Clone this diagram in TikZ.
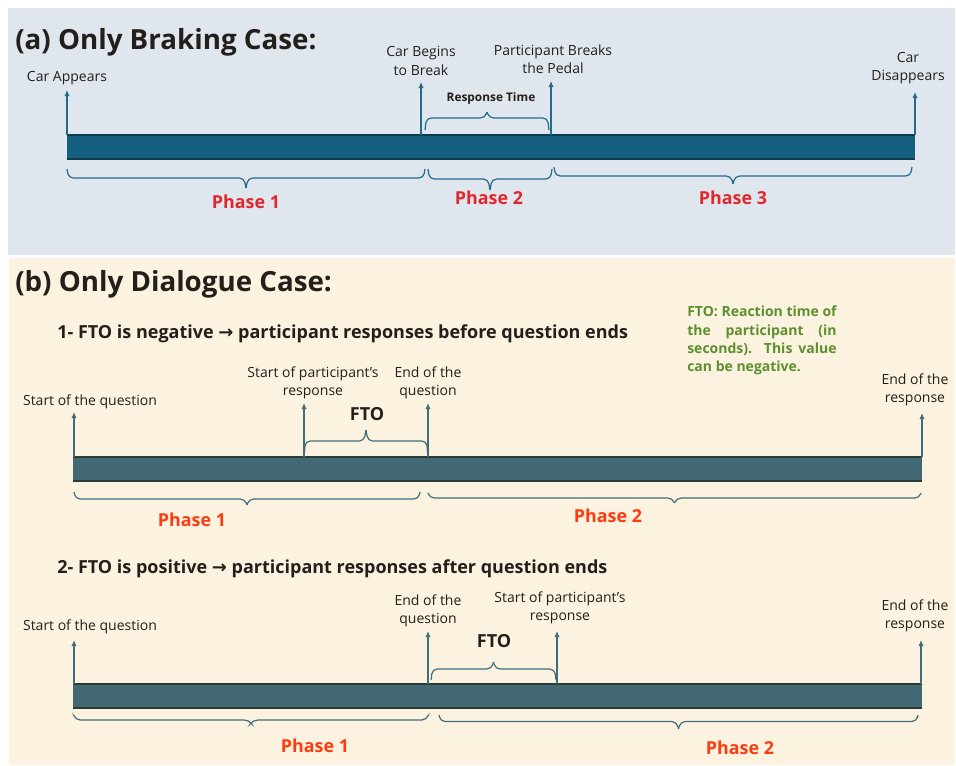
\documentclass[tikz,border=0pt]{standalone}
\usepackage{fontspec}
\setmainfont{Open Sans}
\newfontfamily\dejavu{DejaVu Sans}
\usetikzlibrary{arrows.meta}
\definecolor{bgA}{HTML}{E0E6EE}
\definecolor{bgB}{HTML}{FBF3E0}
\definecolor{barAf}{HTML}{155F7F}
\definecolor{barAd}{HTML}{0E3B4E}
\definecolor{barBf}{HTML}{426973}
\definecolor{barBd}{HTML}{2D3B38}
\definecolor{arrA}{HTML}{226B8A}
\definecolor{arrB}{HTML}{3F6E7A}
\definecolor{redA}{HTML}{E3262B}
\definecolor{redB}{HTML}{FF3A10}
\definecolor{grn}{HTML}{5E8F2E}
\definecolor{ink}{HTML}{231F1A}
% custom brace: #1 style, #2 name, #3 x1, #4 x2, #5 base y, #6 line y, #7 tip y
\newcommand\mybrace[7]{%
  \coordinate (#2-a) at (#3,#5);
  \coordinate (#2-b) at (#4,#5);
  \coordinate (#2-t) at ({(#3+#4)/2},#7);
  \draw[#1,rounded corners=3.5pt] (#2-a) -- (#3+1.5,#6) -- ({(#3+#4)/2-2},#6) -- (#2-t);
  \draw[#1,rounded corners=3.5pt] (#2-b) -- (#4-1.5,#6) -- ({(#3+#4)/2+2},#6) -- (#2-t);
}
\begin{document}
\begin{tikzpicture}[x=0.75pt,y=-0.75pt,
  lbl/.style={text=ink,font=\fontsize{10.5}{13.8}\selectfont,align=center,inner sep=0pt},
  ttl/.style={text=ink,font=\fontsize{20.8}{24}\selectfont\bfseries,anchor=west,inner sep=0pt},
  sub/.style={text=ink,font=\fontsize{13.5}{16}\selectfont\bfseries,anchor=west,inner sep=0pt},
  phA/.style={text=redA,font=\fontsize{13.4}{16}\selectfont\bfseries,inner sep=0pt},
  phB/.style={text=redB,font=\fontsize{13.4}{16}\selectfont\bfseries,inner sep=0pt},
  fto/.style={text=ink,font=\fontsize{13.5}{16}\selectfont\bfseries,inner sep=0pt},
  arwA/.style={draw=arrA,line width=1pt,-{Latex[length=4.5pt,width=4pt]}},
  arwB/.style={draw=arrB,line width=1pt,-{Latex[length=4.5pt,width=4pt]}},
  brcA/.style={draw=arrA,line width=0.9pt},
  brcB/.style={draw=arrB,line width=0.9pt},
]
\useasboundingbox (0,0) rectangle (956,765);
\fill[white] (0,0) rectangle (956,765);
\fill[bgA] (8,8) rectangle (955,255);
\fill[bgB] (9,258) rectangle (955,765);

% ---------------- (a) ----------------
\node[ttl] (ta) at (15,42) {(a) Only Braking Case:};
\fill[barAf] (67,135) rectangle (915,159);
\draw[barAd,line width=1.1pt] (67,135) -- (915,135) (67,159) -- (915,159);

\coordinate (a1) at (67,135);  \coordinate (a1t) at (67,90);
\coordinate (a2) at (421,135); \coordinate (a2t) at (421,82);
\coordinate (a3) at (551,135); \coordinate (a3t) at (551,81);
\coordinate (a4) at (915,135); \coordinate (a4t) at (915,92);
\draw[arwA] (a1) -- (a1t);
\draw[arwA] (a2) -- (a2t);
\draw[arwA] (a3) -- (a3t);
\draw[arwA] (a4) -- (a4t);
\node[lbl] (la1) at (67,78) {Car Appears};
\node[lbl] (la2) at (421,61) {Car Begins\\to Break};
\node[lbl] (la3) at (553,59) {Participant Breaks\\the Pedal};
\node[lbl] (la4) at (908,68) {Car\\Disappears};

\mybrace{brcA}{rb}{425}{549}{130}{118}{112}
\node[text=ink,font=\fontsize{8.9}{10}\selectfont\bfseries,inner sep=0pt] (rt) at (491,98) {Response Time};

\mybrace{brcA}{p1}{67}{425}{169}{178}{188}
\mybrace{brcA}{p2}{428}{552}{169}{179}{190}
\mybrace{brcA}{p3}{554}{912}{167}{176}{184}
\node[phA] (ph1) at (246,202) {Phase 1};
\node[phA] (ph2) at (489,198) {Phase 2};
\node[phA] (ph3) at (733,198) {Phase 3};

% ---------------- (b) ----------------
\node[ttl] (tb) at (15,284) {(b) Only Dialogue Case:};
\node[sub] (s1) at (57,334) {1- FTO is negative {\dejavu\bfseries →} participant responses before question ends};

\node[text=grn,font=\fontsize{10.5}{13.7}\selectfont\bfseries,anchor=north west,inner sep=0pt,align=left] (note) at (687,306)
  {\makebox[112pt][s]{FTO: Reaction time of}\\
   \makebox[112pt][s]{the participant (in}\\
   \makebox[112pt][s]{seconds). This value}\\
   can be negative.};

% bar b1
\fill[barBf] (73,457) rectangle (922,481);
\draw[barBd,line width=1.1pt] (73,457) -- (922,457) (73,481) -- (922,481);
\coordinate (b1) at (74,457);  \coordinate (b1t) at (74,412);
\coordinate (b2) at (304,457); \coordinate (b2t) at (304,403);
\coordinate (b3) at (428,457); \coordinate (b3t) at (428,403);
\coordinate (b4) at (922,457); \coordinate (b4t) at (922,413);
\draw[arwB] (b1) -- (b1t);
\draw[arwB] (b2) -- (b2t);
\draw[arwB] (b3) -- (b3t);
\draw[arwB] (b4) -- (b4t);
\node[lbl] (lb1) at (90,402) {Start of the question};
\node[lbl] (lb2) at (313,383) {Start of participant’s\\response};
\node[lbl] (lb3) at (428,383) {End of the\\question};
\node[lbl] (lb4) at (915,390) {End of the\\response};

\mybrace{brcB}{fb}{304}{428}{457}{441}{430}
\node[fto] (fto1) at (367,414) {FTO};

\mybrace{brcB}{q1}{74}{420}{492}{499}{505}
\mybrace{brcB}{q2}{428}{921}{493}{498}{503}
\node[phB] (qh1) at (192,520) {Phase 1};
\node[phB] (qh2) at (608,516) {Phase 2};

% bar b2
\node[sub] (s2) at (57,569) {2- FTO is positive {\dejavu\bfseries →} participant responses after question ends};
\fill[barBf] (73,684) rectangle (922,708);
\draw[barBd,line width=1.1pt] (73,684) -- (922,684) (73,708) -- (922,708);
\coordinate (c1) at (74,684);  \coordinate (c1t) at (74,640);
\coordinate (c2) at (428,684); \coordinate (c2t) at (428,631);
\coordinate (c3) at (557,684); \coordinate (c3t) at (557,631);
\coordinate (c4) at (921,684); \coordinate (c4t) at (921,640);
\draw[arwB] (c1) -- (c1t);
\draw[arwB] (c2) -- (c2t);
\draw[arwB] (c3) -- (c3t);
\draw[arwB] (c4) -- (c4t);
\node[lbl] (lc1) at (90,627) {Start of the question};
\node[lbl] (lc2) at (428,611) {End of the\\question};
\node[lbl] (lc3) at (560,608) {Start of participant’s\\response};
\node[lbl] (lc4) at (915,616) {End of the\\response};

\mybrace{brcB}{gb}{431}{556}{680}{669}{662}
\node[fto] (fto2) at (494,641) {FTO};

\mybrace{brcB}{r1}{74}{428}{716}{720}{723}
\mybrace{brcB}{r2}{439}{918}{715}{721.5}{729}
\node[phB] (rh1) at (315,746) {Phase 1};
\node[phB] (rh2) at (740,748) {Phase 2};
\end{tikzpicture}
\end{document}
